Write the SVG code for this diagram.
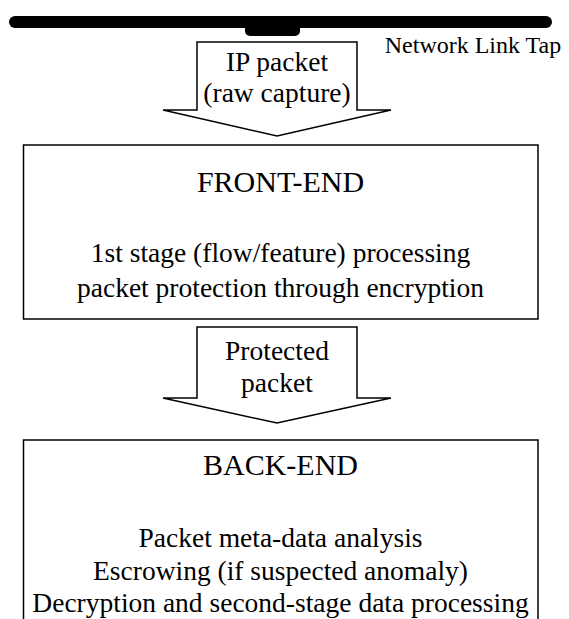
<svg xmlns="http://www.w3.org/2000/svg" width="569" height="619" viewBox="0 0 569 619">
<style>
text{font-family:"Liberation Serif","Times New Roman",serif;fill:#000;text-anchor:middle}
.h{font-size:30px}
.b{font-size:27.5px}
.box{fill:#fff;stroke:#000;stroke-width:1.5}
.arrow{fill:#fff;stroke:#000;stroke-width:1.5;stroke-linejoin:miter}
</style>
<g id="link">
<line x1="15" y1="22" x2="546" y2="22" stroke="#000" stroke-width="12" stroke-linecap="round"/>
<rect x="245" y="20" width="55" height="16" rx="5" fill="#000"/>
<text x="473" y="53" style="font-size:24px">Network Link Tap</text>
</g>
<g id="connectors">
<g id="arrow1">
<polygon class="arrow" points="197,42 357,42 357,110 391,110 277,136 163,110 197,110"/>
<text class="b" x="277" y="71">IP packet</text>
<text class="b" x="277" y="102">(raw capture)</text>
</g>
<g id="arrow2">
<polygon class="arrow" points="197,327 357,327 357,398 391,398 277,423 163,398 197,398"/>
<text class="b" x="277" y="360">Protected</text>
<text class="b" x="277" y="392">packet</text>
</g>
</g>
<g id="frontend">
<rect class="box" x="23.5" y="145" width="514.5" height="174"/>
<text class="h" x="280.5" y="192">FRONT-END</text>
<text class="b" x="280.5" y="262">1st stage (flow/feature) processing</text>
<text class="b" x="280.5" y="297">packet protection through encryption</text>
</g>
<g id="backend">
<path class="box" d="M23.5,625 V440 H538 V625"/>
<text class="h" x="280.5" y="475">BACK-END</text>
<text class="b" x="280.5" y="547">Packet meta-data analysis</text>
<text class="b" x="280.5" y="580">Escrowing (if suspected anomaly)</text>
<text class="b" x="280.5" y="612">Decryption and second-stage data processing</text>
</g>
</svg>
